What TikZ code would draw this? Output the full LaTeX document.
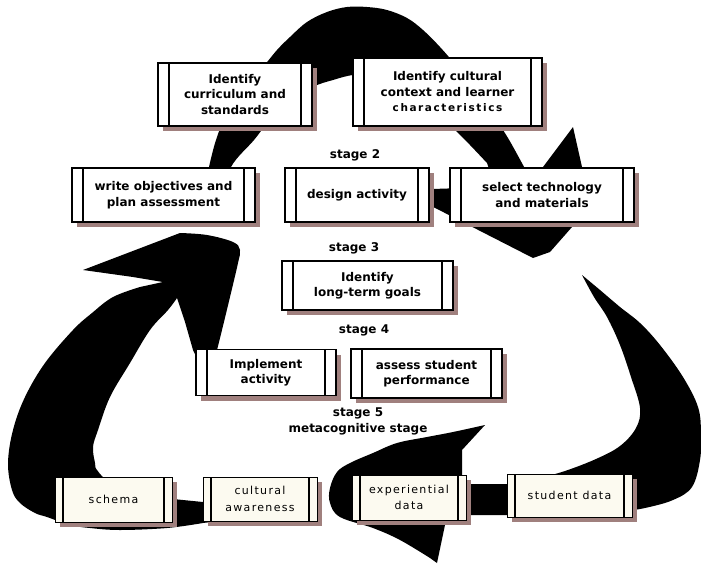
\documentclass[tikz,border=0pt]{standalone}
\usepackage{fontspec}
\setmainfont{DejaVu Sans}
\newfontfamily\datafont{DejaVu Sans}[LetterSpace=12]
\newfontfamily\smallfont{DejaVu Sans}[LetterSpace=15]
\usetikzlibrary{shadows}
\definecolor{shadowrose}{RGB}{160,128,126}
\definecolor{cream}{RGB}{252,250,240}

\tikzset{
  boxshadow/.style={general shadow={shadow xshift=5pt, shadow yshift=-5pt, fill=shadowrose}},
  stagebox/.style={draw, line width=1.6pt, fill=white, inner sep=0pt, align=center,
    font=\bfseries\fontsize{12}{15.5}\selectfont, boxshadow,
    path picture={
      \draw[line width=1.6pt]
        ([xshift=11pt]path picture bounding box.north west) -- ([xshift=11pt]path picture bounding box.south west)
        ([xshift=-11pt]path picture bounding box.north east) -- ([xshift=-11pt]path picture bounding box.south east);}},
  databox/.style={draw, line width=0.9pt, fill=cream, inner sep=0pt, align=center,
    font=\datafont\fontsize{11}{16.5}\selectfont, boxshadow,
    path picture={
      \draw[line width=1.3pt]
        ([xshift=8pt]path picture bounding box.north west) -- ([xshift=8pt]path picture bounding box.south west)
        ([xshift=-8pt]path picture bounding box.north east) -- ([xshift=-8pt]path picture bounding box.south east);}},
  stagelabel/.style={inner sep=0pt, align=center, font=\bfseries\fontsize{12}{16}\selectfont},
  bigarrow/.style={fill=black}
}

\begin{document}
\begin{tikzpicture}[x=1pt, y=-1pt]
\useasboundingbox (0,0) rectangle (701,563);
\fill[white] (0,0) rectangle (701,563);

% upper cycle arrow: from behind the left column, over the top, down to the right
\fill[bigarrow] (205,200)
  -- plot[smooth, tension=.6] coordinates {(209,167) (216,140) (228,110) (245,85) (262,68) (277,50) (290,37) (307,22) (327,12) (347,7) (367,7) (387,10) (407,18) (423,30) (440,47) (458,68) (478,95) (496,120) (508,138) (523,165) (530,178)}
  -- (543,167) -- (573,127) -- (582,167) -- (572,227) -- (550,252) -- (533,258) -- (400,190) -- (495,187)
  -- plot[smooth, tension=.6] coordinates {(487,163) (470,145) (457,132) (435,110) (400,88) (370,76) (353,75) (333,80) (313,87) (290,103) (270,120) (254,140) (231,167) (222,200)}
  -- cycle;

% right cycle arrow: down the right side and back along the bottom
\fill[bigarrow] (582,275)
  -- plot[smooth, tension=.6] coordinates {(582,275) (600,290) (620,307) (640,323) (660,345) (683,377) (698,407) (701,433) (700,460) (692,487) (673,500) (645,508) (620,512)}
  -- (560,515) -- (470,515) -- (445,525) -- (437,563)
  -- plot[smooth, tension=.6] coordinates {(430,558) (400,540) (373,528) (340,517) (330,503) (330,488) (337,472) (350,463) (373,453) (397,443) (427,437) (453,432) (485,425)}
  -- (462,450) -- (462,480) -- (470,484) -- (512,484)
  -- plot[smooth, tension=.6] coordinates {(540,478) (565,471) (596,459) (620,446) (636,428) (640,408) (631,377) (620,345) (607,317) (594,297) (582,275)}
  -- cycle;

% left cycle arrow: from the bottom row up the left side
\fill[bigarrow] (245,510) -- (203,502) -- (173,499)
  -- plot[smooth, tension=.6] coordinates {(140,490) (110,482) (97,470) (95,463) (93,447) (98,430) (110,397) (130,363) (150,330) (168,310) (177,298)}
  -- (185,322) -- (193,350) -- (205,375) -- (217,350)
  -- plot[smooth, tension=.6] coordinates {(222,330) (230,297) (238,263) (240,250) (233,242) (207,235) (180,233)}
  -- (83,270) -- (133,277) -- (163,282)
  -- plot[smooth, tension=.6] coordinates {(140,287) (113,297) (92,313) (73,330) (45,363) (25,397) (13,430) (8,463) (12,490) (20,503) (35,513) (47,517) (70,525) (90,528) (120,530) (167,528) (203,523)}
  -- (245,518) -- cycle;

% stage 1
\node[stagelabel] (s1) at (358,49) {stage 1};
\node[stagebox, minimum width=154pt, minimum height=63pt] (curr) at (235,94.5)
  {Identify\\curriculum and\\standards};
\node[stagebox, minimum width=189pt, minimum height=68pt] (cult) at (447.5,92)
  {Identify cultural\\context and learner\\{\smallfont\bfseries\fontsize{10.5}{15.5}\selectfont characteristics}};

% stage 2
\node[stagelabel] (s2) at (355,155) {stage 2};
\node[stagebox, minimum width=183pt, minimum height=54pt] (obj) at (163.5,195)
  {write objectives and\\plan assessment};
\node[stagebox, minimum width=144pt, minimum height=54pt] (design) at (357,195)
  {design activity};
\node[stagebox, minimum width=184pt, minimum height=54pt] (tech) at (542,195)
  {select technology\\and materials};

% stage 3
\node[stagelabel] (s3) at (354,248) {stage 3};
\node[stagebox, minimum width=171pt, minimum height=49pt] (goals) at (367.5,285.5)
  {Identify\\long-term goals};

% stage 4
\node[stagelabel] (s4) at (364,330) {stage 4};
\node[stagebox, minimum width=140pt, minimum height=46pt] (impl) at (266,372.5)
  {Implement\\activity};
\node[stagebox, minimum width=151pt, minimum height=49pt] (assess) at (426.5,373.5)
  {assess student\\performance};

% stage 5
\node[stagelabel] (s5) at (358,421) {stage 5\\metacognitive stage};
\node[databox, minimum width=117pt, minimum height=45pt] (schema) at (113.5,499.5) {schema};
\node[databox, minimum width=114pt, minimum height=44pt] (aware) at (260,499) {cultural\\awareness};
\node[databox, minimum width=114pt, minimum height=45pt] (exper) at (409,497.5) {experiential\\data};
\node[databox, minimum width=125pt, minimum height=43pt] (sdata) at (569.5,495.5) {student data};
\end{tikzpicture}
\end{document}
